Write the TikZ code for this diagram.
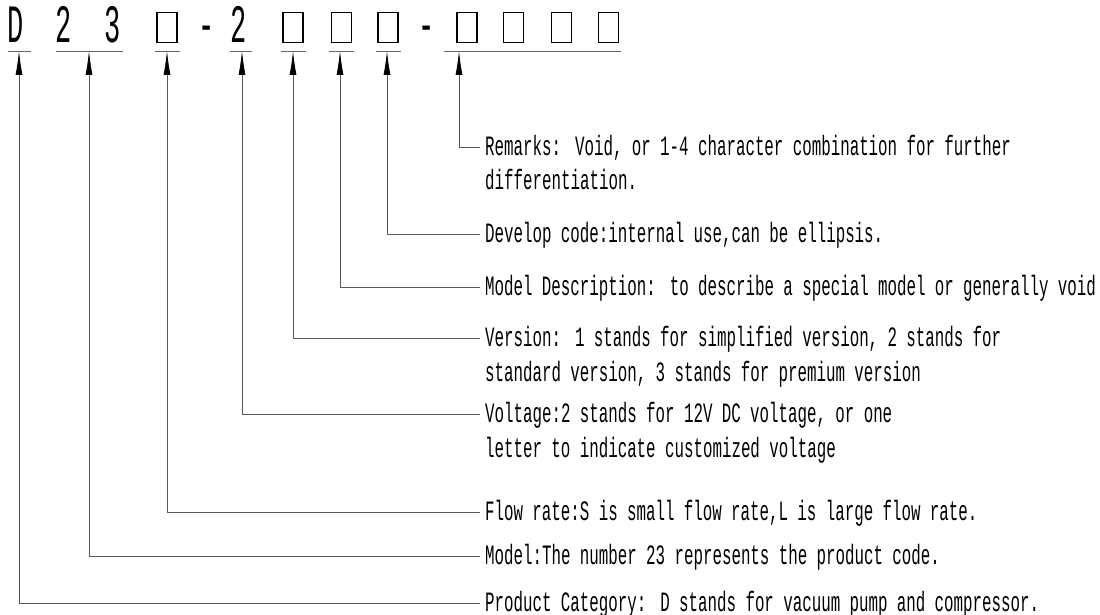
\documentclass[tikz,border=0pt]{standalone}
\usepackage{fontspec}
\usetikzlibrary{arrows.meta}
\newfontfamily\lblfont[FakeStretch=0.565]{Liberation Mono}
\newfontfamily\codefont[FakeStretch=0.5]{Liberation Mono}
\tikzset{
	ch/.style={font=\codefont\fontsize{54}{54}\selectfont,inner sep=0pt,anchor=base},
	blank/.style={draw,line width=1.3pt,minimum width=20pt,minimum height=30pt,inner sep=0pt,anchor=south},
	uline/.style={draw=black!60,line width=0.9pt},
	lead/.style={draw=black!65,line width=0.8pt,-{Latex[length=24pt,width=7pt,black]}},
	lbl/.style={font=\lblfont\fontsize{28}{35}\selectfont,anchor=base west,inner xsep=5pt,inner ysep=0pt,text width=700pt,align=left}
}
\begin{document}
\begin{tikzpicture}[x=1pt,y=-1pt]

	\useasboundingbox (0,0) rectangle (1100,615);

	\node[ch] (cD) at (15.5,43) {D};
	\node[ch] (c2) at (63.5,43) {2};
	\node[ch] (c3) at (112.5,43) {3};
	\node[blank] (bFlow) at (167,43) {};
	\node[ch] (dash1) at (206.5,43) {-};
	\node[ch] (cV) at (239,43) {2};
	\node[blank] (bVer) at (293,43) {};
	\node[blank] (bDesc) at (341.5,43) {};
	\node[blank] (bDev) at (388,43) {};
	\node[ch] (dash2) at (426.5,43) {-};
	\foreach \x [count=\i] in {467,513.5,561.5,608.5}
		\node[blank] (bRem\i) at (\x,43) {};

	\draw[uline] (8,51) -- (31,51);
	\draw[uline] (56,51) -- (123,51);
	\draw[uline] (155,51) -- (180,51);
	\draw[uline] (230,51) -- (252,51);
	\draw[uline] (281,51) -- (306,51);
	\draw[uline] (329,51) -- (354,51);
	\draw[uline] (376,51) -- (401,51);
	\draw[uline] (444,51) -- (621,51);

	\coordinate (tCat) at (19,51);
	\coordinate (tModel) at (89,51);
	\coordinate (tFlow) at (167,51);
	\coordinate (tVolt) at (242,51);
	\coordinate (tVer) at (293,51);
	\coordinate (tDesc) at (340,51);
	\coordinate (tDev) at (387,51);
	\coordinate (tRem) at (459,51);

	\node[lbl] (lRem) at (480,155) {Remarks: Void, or 1-4 character combination for further\\differentiation.};
	\node[lbl] (lDev) at (480,242) {Develop code:internal use,can be ellipsis.};
	\node[lbl] (lDesc) at (480,295) {Model Description: to describe a special model or generally void};
	\node[lbl] (lVer) at (480,346) {Version: 1 stands for simplified version, 2 stands for\\standard version, 3 stands for premium version};
	\node[lbl] (lVolt) at (480,422) {Voltage:2 stands for 12V DC voltage, or one\\letter to indicate customized voltage};
	\node[lbl] (lFlow) at (480,520) {Flow rate:S is small flow rate,L is large flow rate.};
	\node[lbl] (lModel) at (480,564) {Model:The number 23 represents the product code.};
	\node[lbl] (lCat) at (480,611) {Product Category: D stands for vacuum pump and compressor.};

	\draw[lead] ([yshift=8pt]lRem.base west) -| (tRem);
	\draw[lead] ([yshift=8pt]lDev.base west) -| (tDev);
	\draw[lead] ([yshift=8pt]lDesc.base west) -| (tDesc);
	\draw[lead] ([yshift=8pt]lVer.base west) -| (tVer);
	\draw[lead] ([yshift=8pt]lVolt.base west) -| (tVolt);
	\draw[lead] ([yshift=8pt]lFlow.base west) -| (tFlow);
	\draw[lead] ([yshift=8pt]lModel.base west) -| (tModel);
	\draw[lead] ([yshift=8pt]lCat.base west) -| (tCat);

\end{tikzpicture}
\end{document}
